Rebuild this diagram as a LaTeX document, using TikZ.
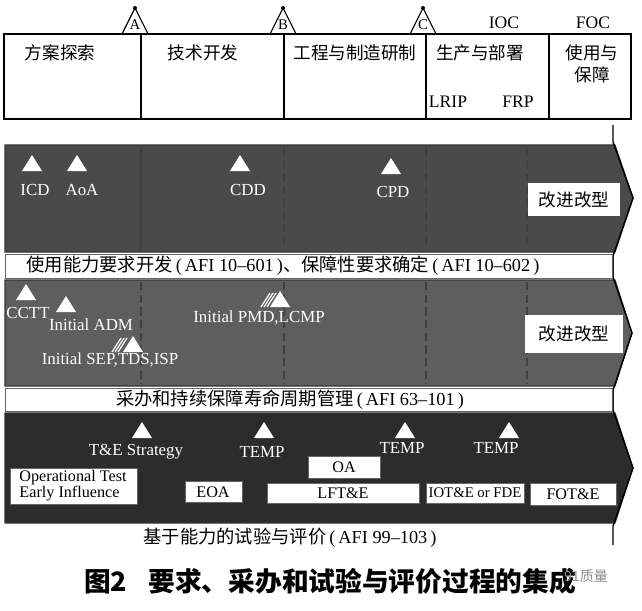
\documentclass[tikz,border=0pt]{standalone}
\usepackage{fontspec}
\setmainfont{Liberation Serif}
\newfontfamily\cjk{Noto Sans CJK SC}
\newcommand{\zh}[1]{{\cjk #1}}
% white milestone triangle centred at (#1,#2)
\newcommand{\wmark}[2]{\fill[white] (#1-10,#2+8) -- (#1,#2-8) -- (#1+10,#2+8) -- cycle;}
% hatch marks left of a milestone
\newcommand{\hatchmarks}[2]{\foreach \s in {0,3,6} \draw[white,line width=0.9pt] (#1-21+\s,#2+8) -- (#1-12+\s,#2-6);}
\definecolor{bandA}{HTML}{4A4A4A}
\definecolor{bandB}{HTML}{5E5E5E}
\definecolor{bandC}{HTML}{2C2C2C}

\begin{document}
\begin{tikzpicture}[x=0.025cm,y=-0.025cm,
  phase/.style={font=\cjk\fontsize{12.5}{16}\selectfont,inner sep=0pt},
  small/.style={font=\fontsize{12.5}{14}\selectfont,inner sep=0pt},
  lbl/.style={text=white,font=\fontsize{12}{14}\selectfont,inner sep=0pt},
  bartext/.style={font=\fontsize{13}{15}\selectfont,inner sep=0pt},
  wbox/.style={draw=black!60,fill=white,line width=0.6pt},
  boxtext/.style={font=\fontsize{11.5}{11.5}\selectfont,inner sep=0pt},
  divline/.style={black!75,line width=1pt,dash pattern=on 6pt off 3pt}]
\useasboundingbox (0,0) rectangle (642,610);

% Milestones A, B, C and the phase boxes
\foreach \x/\m in {135/A,283/B,423/C} {
  \draw[fill=white,line width=0.8pt] (\x-13,34) -- (\x,8) -- (\x+13,34);
  \fill (\x,8) circle (2);
  \node[font=\fontsize{10.5}{10.5}\selectfont,inner sep=0pt] (ms\m) at (\x,25) {\m};
}
\draw[line width=1pt] (4,34) rectangle (631,119);
\foreach \x in {141,284,426,549} \draw[line width=1pt] (\x,34) -- (\x,119);

\node[phase] (concept) at (60,53) {方案探索};
\node[phase] (techdev) at (203,53) {技术开发};
\node[phase] (emd) at (355,53) {工程与制造研制};
\node[phase] (prod) at (480,53) {生产与部署};
\node[phase,align=center] (ops) at (592,64) {使用与\\保障};
\node[small] (ioc) at (504,23) {IOC};
\node[small] (foc) at (593,23) {FOC};
\node[small] (lrip) at (448,102) {LRIP};
\node[small] (frp) at (518,102) {FRP};

% Three bands
\filldraw[fill=bandA,draw=black!80,line width=0.8pt] (5,145) -- (615,145) -- (633,198) -- (615,252) -- (5,252) -- cycle;
\filldraw[fill=bandB,draw=black!80,line width=0.8pt] (5,280) -- (615,280) -- (632,333) -- (615,386) -- (5,386) -- cycle;
\filldraw[fill=bandC,draw=black!80,line width=0.8pt] (5,413) -- (615,413) -- (633,468) -- (615,523) -- (5,523) -- cycle;
\draw[wbox] (5,254) rectangle (613,278);
\draw[wbox] (5,388) rectangle (613,411);
\draw[line width=1pt] (613,125) -- (613,142) -- (633,198) -- (613,256) -- (613,277) -- (632,333)
  -- (613,390) -- (613,410) -- (633,468) -- (613,526) -- (613,545);

% Phase lines through the bands
\draw[black!75,line width=1.6pt] (141,148) -- (141,250);
\foreach \x in {284,426,527} \draw[divline] (\x,148) -- (\x,250);
\foreach \x in {141,284,426,527} \draw[divline] (\x,282) -- (\x,384);

% Requirements band
\wmark{32}{163} \wmark{77}{163} \wmark{240}{163} \wmark{391}{166}
\node[lbl] (icd) at (35,190) {ICD};
\node[lbl] (aoa) at (82,190) {AoA};
\node[lbl] (cdd) at (248,190) {CDD};
\node[lbl] (cpd) at (393,192) {CPD};
\draw[wbox,draw=none] (528,183) rectangle (620,216);
\node[phase] (modA) at (574,200) {改进改型};
\node[bartext] (reqbar) at (283,266) {\zh{使用能力要求开发}\,(\,AFI 10–601\,)\zh{、保障性要求确定}\,(\,AFI 10–602\,)};

% Acquisition band
\wmark{26}{292} \wmark{66}{304}
\hatchmarks{133}{344} \wmark{133}{344}
\hatchmarks{282}{299} \wmark{280}{299}
\node[lbl] (cctt) at (28,313) {CCTT};
\node[lbl] (adm) at (91,325) {Initial ADM};
\node[lbl] (sep) at (110,360) {Initial SEP,TDS,ISP};
\node[lbl] (pmd) at (259,318) {Initial PMD,LCMP};
\draw[wbox,draw=none] (525,315) rectangle (623,353);
\node[phase] (modB) at (574,334) {改进改型};
\node[bartext] (acqbar) at (290,400) {\zh{采办和持续保障寿命周期管理}\,(\,AFI 63–101\,)};

% Test and evaluation band
\wmark{142}{430} \wmark{264}{430} \wmark{405}{430} \wmark{509}{430}
\node[lbl] (testrat) at (136,452) {T\&E Strategy};
\node[lbl] (tempA) at (262,452) {TEMP};
\node[lbl] (tempB) at (402,448) {TEMP};
\node[lbl] (tempC) at (496,448) {TEMP};
\draw[wbox] (10,468) rectangle (137,504);
\node[boxtext,align=left] (otei) at (73,486) {Operational Test\\Early Influence};
\draw[wbox] (185,481) rectangle (242,502);
\node[boxtext] (eoa) at (213,492) {EOA};
\draw[wbox] (308,456) rectangle (380,478);
\node[boxtext] (oa) at (344,467) {OA};
\draw[wbox] (267,483) rectangle (419,503);
\node[boxtext] (lfte) at (343,493) {LFT\&E};
\draw[wbox] (426,483) rectangle (524,503);
\node[boxtext,font=\fontsize{10.5}{11}\selectfont] (iote) at (475,493) {IOT\&E or FDE};
\draw[wbox] (530,483) rectangle (616,505);
\node[boxtext] (fote) at (573,494) {FOT\&E};
\node[bartext] (tebar) at (290,538) {\zh{基于能力的试验与评价}\,(\,AFI 99–103\,)};

% Caption
\node[font=\cjk\bfseries\fontsize{19}{21}\selectfont,inner sep=0pt] (caption) at (330,581)
  {图2\hspace{0.8em}要求、采办和试验与评价过程的集成};
\node[font=\cjk\fontsize{10}{12}\selectfont,text=black!45,inner sep=0pt] (wmk) at (586,576) {91质量};
\end{tikzpicture}
\end{document}
